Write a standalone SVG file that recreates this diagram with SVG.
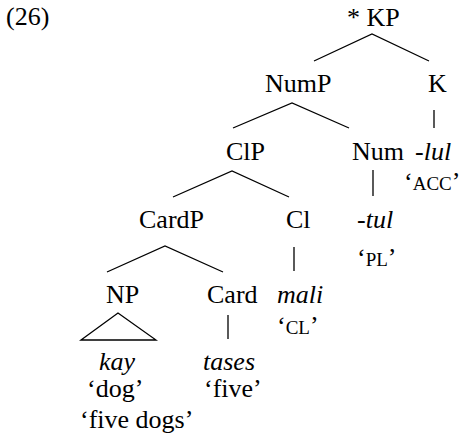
<svg xmlns="http://www.w3.org/2000/svg" width="464" height="438" viewBox="0 0 464 438">
<style>
text{font-family:'Liberation Serif','DejaVu Serif',serif;font-size:26px;fill:#000}
.it{font-style:italic}
.sc{font-size:19px}
.e{fill:none;stroke:#000;stroke-width:1.3}
</style>
<rect width="464" height="438" fill="#fff"/>
<g id="label"><text x="6" y="25">(26)</text></g>
<g id="connectors" class="e">
<path class="e" d="M314,61 L372,34 L429,61"/>
<path class="e" d="M233,128 L292,103 L349,128"/>
<path class="e" d="M434,110 V128"/>
<path class="e" d="M173,197 L232,171 L289,197"/>
<path class="e" d="M373,170 V196"/>
<path class="e" d="M107,272 L165,246 L223,272"/>
<path class="e" d="M294,247 V271"/>
<path class="e" d="M81,340 L118,313 L156,340 Z"/>
<path class="e" d="M228,315 V339"/>
</g>
<g id="KP"><text x="347" y="26">* KP</text></g>
<g id="NumP"><text x="265" y="92">NumP</text></g>
<g id="K"><text x="428" y="92">K</text></g>
<g id="lul"><text x="415" y="160" class="it">-lul</text><text x="404" y="190">‘<tspan class="sc">ACC</tspan>’</text></g>
<g id="ClP"><text x="226" y="160">ClP</text></g>
<g id="Num"><text x="352" y="160">Num</text></g>
<g id="tul"><text x="357" y="228" class="it">-tul</text><text x="357" y="266">‘<tspan class="sc">PL</tspan>’</text></g>
<g id="CardP"><text x="139" y="228">CardP</text></g>
<g id="Cl"><text x="286" y="228">Cl</text></g>
<g id="mali"><text x="277" y="303" class="it">mali</text><text x="277" y="334">‘<tspan class="sc">CL</tspan>’</text></g>
<g id="NP"><text x="106" y="303">NP</text></g>
<g id="Card"><text x="207" y="303">Card</text></g>
<g id="kay"><text x="99" y="370" class="it">kay</text><text x="87" y="397">‘dog’</text></g>
<g id="tases"><text x="203" y="370" class="it">tases</text><text x="204" y="397">‘five’</text></g>
<g id="translation"><text x="80" y="428">‘five dogs’</text></g>
</svg>
